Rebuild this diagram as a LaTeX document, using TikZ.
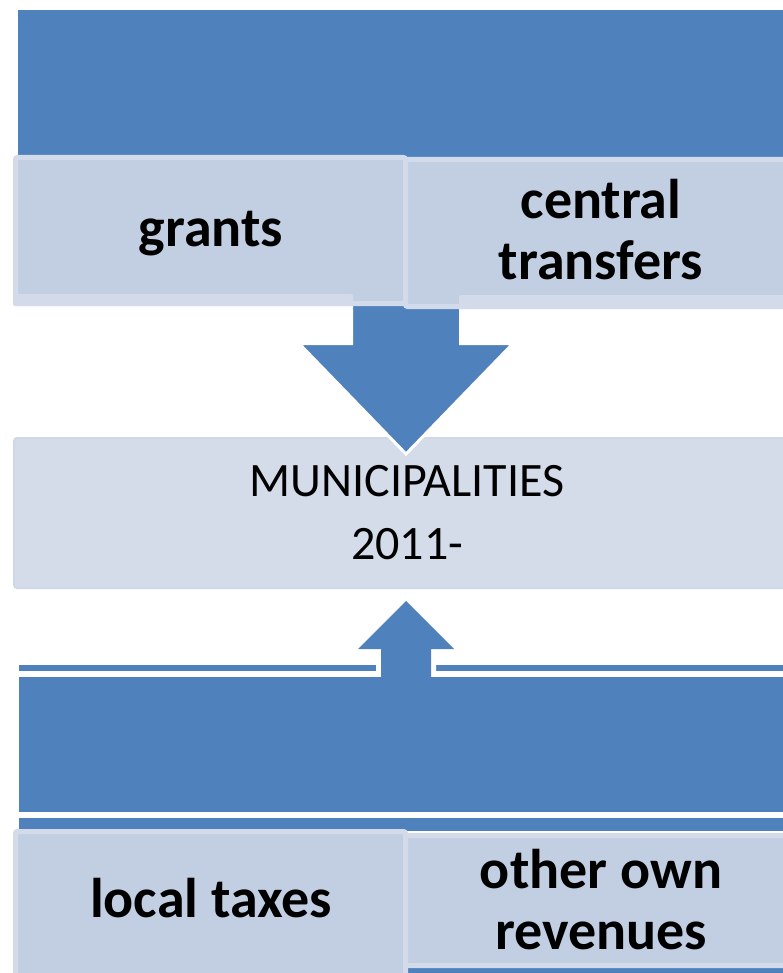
\documentclass[tikz,border=0pt]{standalone}
\usepackage{fontspec}
\setmainfont{Carlito}
\definecolor{sablue}{HTML}{4F81BD}
\definecolor{boxfill}{HTML}{C2CFE3}
\definecolor{boxedge}{HTML}{D3DBEA}
\definecolor{munifill}{HTML}{D4DCEA}
\definecolor{muniedge}{HTML}{CED7E7}
\tikzset{
  band/.style={fill=sablue},
  srcbox/.style={rectangle, fill=boxfill, draw=boxedge, line width=5pt, rounded corners=2pt, inner sep=0pt},
  strip/.style={fill=boxedge, rounded corners=2pt},
  munibox/.style={rectangle, fill=munifill, draw=muniedge, line width=1.5pt, rounded corners=3pt, inner sep=0pt},
  boldlabel/.style={font=\fontsize{56}{61}\selectfont\bfseries, align=center, inner sep=0pt, text=black},
  munilabel/.style={font=\fontsize{48}{63}\selectfont, align=center, inner sep=0pt, text=black},
}
\begin{document}
\begin{tikzpicture}[x=1pt,y=-1pt]
\useasboundingbox (0,0) rectangle (783,973);
% top band
\fill[band] (18,10) rectangle (800,157);
% municipalities box
\node[munibox, minimum width=786pt, minimum height=150.5pt] (muni) at (406.9,513) {};
% down arrow
\coordinate (dtip) at (406,454);
\filldraw[fill=sablue, draw=white, line width=3pt] (351.5,298) -- (460.5,298) -- (460.5,343.5) -- (513,343.5) -- (dtip) -- (299,343.5) -- (351.5,343.5) -- cycle;
% top source boxes
\node[srcbox, minimum width=390pt, minimum height=146pt] (grants) at (210.5,230.5) {};
\node[srcbox, minimum width=389.5pt, minimum height=147pt] (central) at (600.25,233) {};
\fill[strip] (13,294) rectangle (353,306);
\fill[strip] (459,295) rectangle (800,309);
\node[boldlabel, anchor=base] (lgrants) at (211,247) {grants};
\node[boldlabel] (lcentral) at (601,230) {central\\transfers};
\node[munilabel] (lmuni) at (407,513) {MUNICIPALITIES\\2011-};
% bottom part
\fill[band] (19,665) rectangle (800,671);
\coordinate (utip) at (406,601);
\path[draw=white, line width=10pt, line join=round] (utip) -- (454,649) -- (431,649) -- (431,690) -- (381,690) -- (381,649) -- (358,649) -- cycle;
\fill[sablue] (utip) -- (454,649) -- (431,649) -- (431,690) -- (381,690) -- (381,649) -- (358,649) -- cycle;
\fill[band] (19,677) rectangle (800,812);
\fill[band] (19,818) rectangle (800,831);
\fill[band] (19,960) rectangle (800,990);
\node[srcbox, minimum width=390pt, minimum height=158.5pt] (local) at (210.5,910.75) {};
\node[srcbox, minimum width=389.5pt, minimum height=130pt] (other) at (600.25,900.5) {};
\node[boldlabel, anchor=base] (llocal) at (211,917) {local taxes};
\node[boldlabel] (lother) at (601,900) {other own\\revenues};
\end{tikzpicture}
\end{document}
